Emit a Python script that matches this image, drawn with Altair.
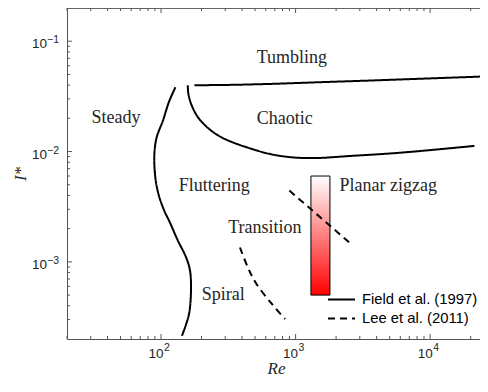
import altair as alt
import pandas as pd

# ---------------- data ----------------
# Field et al. (1997) boundaries
steady_re = [128, 115, 103, 92.7, 89.2, 90.7, 96.3, 105.8, 116.3, 133, 153, 164, 167, 162, 153, 143]
steady_i = [0.0383, 0.0286, 0.0189, 0.0134, 0.0095, 0.0058, 0.0040, 0.0029, 0.00228, 0.00157,
            0.00111, 0.00084, 0.00056, 0.000345, 0.000269, 0.000214]
chaotic_re = [158, 160, 172, 198, 271, 480, 758, 1268, 2658, 6255, 21330]
chaotic_i = [0.0399, 0.0329, 0.0249, 0.0189, 0.0138, 0.0105, 0.00915, 0.00872, 0.00915, 0.0098, 0.01125]
tumbling_re = [177, 322, 638, 1503, 3540, 9890, 26000]
tumbling_i = [0.0399, 0.0402, 0.041, 0.0425, 0.044, 0.046, 0.048]
# Lee et al. (2011) boundaries
spiral_re = [386, 440, 508, 676, 836]
spiral_i = [0.00135, 0.0009, 0.00064, 0.000407, 0.000303]
transition_re = [899, 2658]
transition_i = [0.00443, 0.00141]
# planar zigzag bar
bar_re = [1300, 1800]
bar_i = [0.0005, 0.006]
# region labels
region_names = ["Tumbling", "Steady", "Chaotic", "Fluttering", "Planar zigzag", "Transition", "Spiral"]
region_re = [939, 46.2, 830, 249, 4875, 591, 290]
region_i = [0.063, 0.01815, 0.0178, 0.00443, 0.00443, 0.00182, 0.000452]
# axes
x_major = [100, 1000, 10000]
x_exponents = ["2", "3", "4"]
y_major = [0.001, 0.01, 0.1]
y_exponents = ["−3", "−2", "−1"]
x_minor = [m * 10 ** k for k in (1, 2, 3) for m in range(2, 10) if 20 <= m * 10 ** k <= 9000] + [20000]
y_minor = [m * 10.0 ** k for k in (-4, -3, -2) for m in range(2, 10) if 3e-4 <= m * 10.0 ** k]
SRC_FIELD = "Field et al. (1997)"
SRC_LEE = "Lee et al. (2011)"

# ---------------- tables ----------------
rows = []
for seg, src, xs_, ys_ in [
    ("steady", SRC_FIELD, steady_re, steady_i),
    ("chaotic", SRC_FIELD, chaotic_re, chaotic_i),
    ("tumbling", SRC_FIELD, tumbling_re, tumbling_i),
    ("spiral", SRC_LEE, spiral_re, spiral_i),
    ("transition", SRC_LEE, transition_re, transition_i),
]:
    for k, (a, b) in enumerate(zip(xs_, ys_)):
        rows.append({"Re": a, "I": b, "seg": seg, "src": src, "ord": k})
lines_df = pd.DataFrame(rows)
bar_df = pd.DataFrame({"Re": [bar_re[0]], "Re2": [bar_re[1]], "I": [bar_i[0]], "I2": [bar_i[1]]})
labels_df = pd.DataFrame({"name": region_names, "Re": region_re, "I": region_i})
xmaj_df = pd.DataFrame({"Re": x_major, "base": ["10"] * 3, "exp": x_exponents})
xmin_df = pd.DataFrame({"Re": x_minor})
ymaj_df = pd.DataFrame({"I": y_major, "base": ["10"] * 3, "exp": y_exponents})
ymin_df = pd.DataFrame({"I": y_minor})

W, H = 413, 331
AX = "#555555"
TXT = "#262626"
xs = alt.Scale(type="log", domain=[20, 23470], nice=False)
ys = alt.Scale(type="log", domain=[2e-4, 0.2], nice=False)

x_axis = alt.Axis(values=x_major, labels=False, ticks=False, grid=False,
                  domainColor=AX, domainWidth=1,
                  title="Re", titleFont="Liberation Serif",
                  titleFontStyle="italic", titleFontWeight="normal", titleFontSize=17,
                  titleColor=TXT, titleX=209, titleY=34, titleBaseline="alphabetic",
                  titleAlign="center")
y_axis = alt.Axis(values=y_major, labels=False, ticks=False, grid=False,
                  domainColor=AX, domainWidth=1, title="I*",
                  titleFont="Liberation Serif", titleFontStyle="italic", titleFontWeight="normal",
                  titleFontSize=17, titleColor=TXT, titleX=-42, titleY=H / 2, titleAngle=270,
                  titleBaseline="alphabetic", titleAlign="center")

bar = alt.Chart(bar_df).mark_rect(
    fill=alt.LinearGradient(gradient="linear", x1=0, y1=0, x2=0, y2=1,
                            stops=[alt.GradientStop(color="#ffffff", offset=0),
                                   alt.GradientStop(color="#ff0000", offset=1)]),
    stroke="black", strokeWidth=1,
).encode(
    x=alt.X("Re:Q", scale=xs, axis=x_axis),
    x2="Re2:Q",
    y=alt.Y("I:Q", scale=ys, axis=y_axis),
    y2="I2:Q",
)

lines = alt.Chart(lines_df).mark_line(
    color="black", strokeWidth=2, interpolate="catmull-rom", clip=True
).encode(
    x=alt.X("Re:Q", scale=xs),
    y=alt.Y("I:Q", scale=ys),
    detail="seg:N",
    order="ord:Q",
    strokeDash=alt.StrokeDash(
        "src:N",
        scale=alt.Scale(domain=[SRC_FIELD, SRC_LEE], range=[[1, 0], [7, 5]]),
        legend=alt.Legend(orient="none", legendX=260, legendY=282, title=None,
                          symbolType="stroke", symbolSize=729, symbolStrokeWidth=2,
                          symbolStrokeColor="black", labelFont="Liberation Sans",
                          labelFontSize=14.8, labelColor="black", labelOffset=6,
                          clipHeight=19, rowPadding=0, padding=0),
    ),
)

texts = alt.Chart(labels_df).mark_text(
    font="Liberation Serif", fontSize=18, align="center", baseline="alphabetic", color=TXT
).encode(x=alt.X("Re:Q", scale=xs), y=alt.Y("I:Q", scale=ys), text="name:N")

# tick labels (10 with superscript exponent)
xl_base = alt.Chart(xmaj_df).mark_text(
    font="Liberation Sans", fontSize=13.5, align="center", baseline="alphabetic", color=TXT, dx=-5
).encode(x=alt.X("Re:Q", scale=xs), y=alt.value(H + 19), text="base:N")
xl_exp = alt.Chart(xmaj_df).mark_text(
    font="Liberation Sans", fontSize=10.5, align="left", baseline="alphabetic", color=TXT, dx=3
).encode(x=alt.X("Re:Q", scale=xs), y=alt.value(H + 12), text="exp:N")
yl_base = alt.Chart(ymaj_df).mark_text(
    font="Liberation Sans", fontSize=13.5, align="right", baseline="alphabetic", color=TXT, dy=7
).encode(y=alt.Y("I:Q", scale=ys), x=alt.value(-20), text="base:N")
yl_exp = alt.Chart(ymaj_df).mark_text(
    font="Liberation Sans", fontSize=10.5, align="left", baseline="alphabetic", color=TXT, dy=2
).encode(y=alt.Y("I:Q", scale=ys), x=alt.value(-20), text="exp:N")

tick_color = dict(color=AX, strokeWidth=1)
xb_major = alt.Chart(xmaj_df).mark_rule(**tick_color).encode(
    x=alt.X("Re:Q", scale=xs), y=alt.value(H), y2=alt.value(H - 5))
xb_minor = alt.Chart(xmin_df).mark_rule(**tick_color).encode(
    x=alt.X("Re:Q", scale=xs), y=alt.value(H), y2=alt.value(H - 3))
xt_major = alt.Chart(xmaj_df).mark_rule(**tick_color).encode(
    x=alt.X("Re:Q", scale=xs), y=alt.value(0), y2=alt.value(5))
xt_minor = alt.Chart(xmin_df).mark_rule(**tick_color).encode(
    x=alt.X("Re:Q", scale=xs), y=alt.value(0), y2=alt.value(3))
yl_major = alt.Chart(ymaj_df).mark_rule(**tick_color).encode(
    y=alt.Y("I:Q", scale=ys), x=alt.value(0), x2=alt.value(5))
yl_minor = alt.Chart(ymin_df).mark_rule(**tick_color).encode(
    y=alt.Y("I:Q", scale=ys), x=alt.value(0), x2=alt.value(3))
top_frame = alt.Chart(xmaj_df).mark_rule(**tick_color).encode(
    x=alt.value(0), x2=alt.value(W), y=alt.value(0))

chart = alt.layer(
    bar, xb_major, xb_minor, xt_major, xt_minor, yl_major, yl_minor, top_frame,
    xl_base, xl_exp, yl_base, yl_exp, texts, lines
).properties(
    width=W, height=H,
    autosize=alt.AutoSizeParams(type="none"),
    padding={"left": 59, "top": 0, "right": 0, "bottom": 38},
).configure_view(stroke=None).configure(background="white")

chart.save("out.html", embed_options={"renderer": "svg", "actions": False})
